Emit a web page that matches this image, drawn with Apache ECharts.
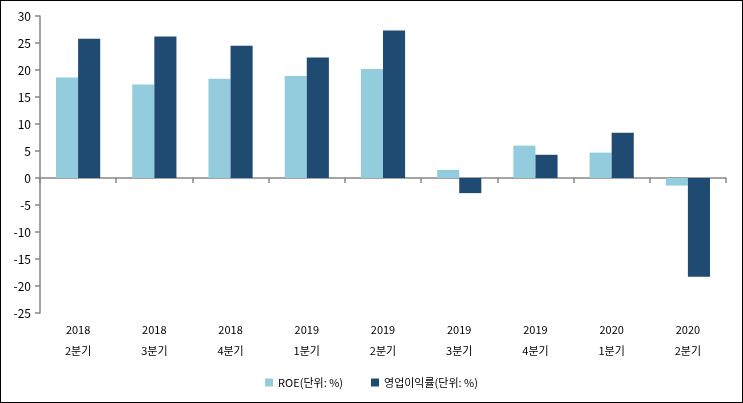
<!DOCTYPE html>
<html>
<head>
<meta charset="utf-8">
<script src="https://cdn.jsdelivr.net/npm/echarts@6/dist/echarts.min.js"></script>
<style>
html,body{margin:0;padding:0;background:#fff;}
#c{width:743px;height:403px;box-sizing:border-box;border:1px solid #000;}
</style>
</head>
<body>
<div id="c"></div>
<script>
const years = ['2018','2018','2018','2019','2019','2019','2019','2020','2020'];
const quarters = ['2분기','3분기','4분기','1분기','2분기','3분기','4분기','1분기','2분기'];
const roe = [18.6, 17.3, 18.4, 18.9, 20.2, 1.5, 6.0, 4.7, -1.4];
const opMargin = [25.8, 26.2, 24.5, 22.3, 27.3, -2.8, 4.3, 8.4, -18.3];
const seriesNames = ['ROE(단위: %)', '영업이익률(단위: %)'];

const categories = years.map((y, i) => y + '\n' + quarters[i]);
const font = "'Noto Sans CJK KR', 'DejaVu Sans', sans-serif";
const axisGray = '#868686';

const chart = echarts.init(document.getElementById('c'));
chart.setOption({
  animation: false,
  textStyle: {fontFamily: font},
  grid: {left: 39, right: 16, top: 15, bottom: 89},
  legend: {
    bottom: 9, left: 'center',
    itemWidth: 8, itemHeight: 8, itemGap: 28,
    icon: 'rect',
    textStyle: {fontFamily: font, fontSize: 11, color: '#000'},
    data: seriesNames
  },
  xAxis: [
    {
      type: 'category', data: categories,
      axisLine: {onZero: true, lineStyle: {color: axisGray, width: 1.5}},
      axisTick: {show: true, length: 5, lineStyle: {color: axisGray, width: 1.5}},
      axisLabel: {show: false}
    },
    {
      type: 'category', data: categories, position: 'bottom',
      axisLine: {show: false, onZero: false},
      axisTick: {show: false},
      axisLabel: {margin: 6, fontSize: 11, lineHeight: 21, color: '#000', fontFamily: font}
    }
  ],
  yAxis: {
    type: 'value', min: -25, max: 30, interval: 5,
    splitLine: {show: false},
    axisLine: {show: true, lineStyle: {color: axisGray, width: 1.5}},
    axisTick: {show: true, length: 5, lineStyle: {color: axisGray, width: 1.5}},
    axisLabel: {fontSize: 12, color: '#000', margin: 9, fontFamily: font}
  },
  series: [
    {
      name: seriesNames[0], type: 'bar', xAxisIndex: 0, data: roe,
      itemStyle: {color: '#93CDDD'}, barGap: '0%', barCategoryGap: '42%'
    },
    {
      name: seriesNames[1], type: 'bar', xAxisIndex: 0, data: opMargin,
      itemStyle: {color: '#1F4A72'}, barGap: '0%', barCategoryGap: '42%'
    }
  ]
});
</script>
</body>
</html>
